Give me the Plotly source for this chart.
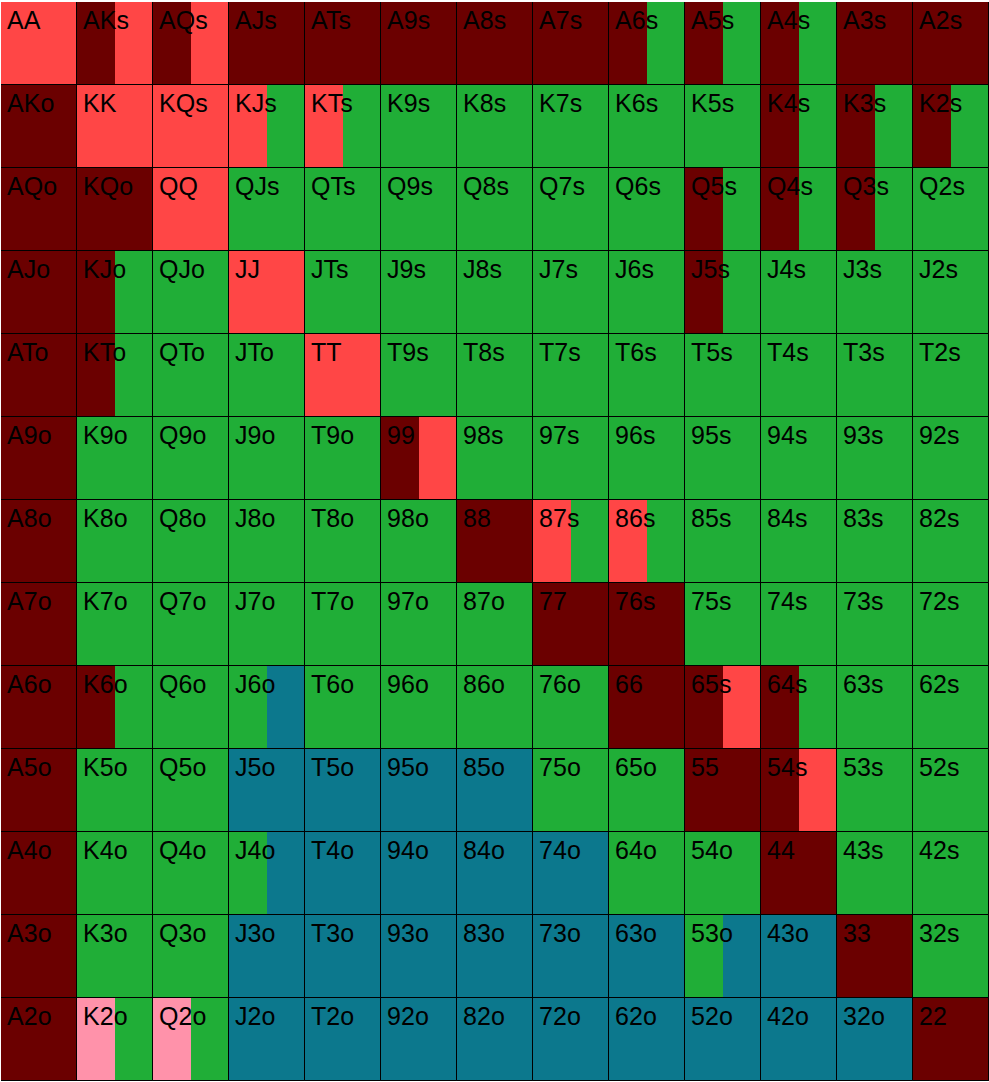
import plotly.graph_objects as go

RANKS = list("AKQJT98765432")

# Action frequencies (%) per cell, rows/cols ordered by RANKS
ALLIN = [
    [0, 50, 50, 100, 100, 100, 100, 100, 50, 50, 50, 100, 100],
    [100, 0, 0, 0, 0, 0, 0, 0, 0, 0, 50, 50, 50],
    [100, 100, 0, 0, 0, 0, 0, 0, 0, 50, 50, 50, 0],
    [100, 50, 0, 0, 0, 0, 0, 0, 0, 50, 0, 0, 0],
    [100, 50, 0, 0, 0, 0, 0, 0, 0, 0, 0, 0, 0],
    [100, 0, 0, 0, 0, 50, 0, 0, 0, 0, 0, 0, 0],
    [100, 0, 0, 0, 0, 0, 100, 0, 0, 0, 0, 0, 0],
    [100, 0, 0, 0, 0, 0, 0, 100, 100, 0, 0, 0, 0],
    [100, 50, 0, 0, 0, 0, 0, 0, 100, 50, 50, 0, 0],
    [100, 0, 0, 0, 0, 0, 0, 0, 0, 100, 50, 0, 0],
    [100, 0, 0, 0, 0, 0, 0, 0, 0, 0, 100, 0, 0],
    [100, 0, 0, 0, 0, 0, 0, 0, 0, 0, 0, 100, 0],
    [100, 0, 0, 0, 0, 0, 0, 0, 0, 0, 0, 0, 100],
]
RAISE = [
    [100, 50, 50, 0, 0, 0, 0, 0, 0, 0, 0, 0, 0],
    [0, 100, 100, 50, 50, 0, 0, 0, 0, 0, 0, 0, 0],
    [0, 0, 100, 0, 0, 0, 0, 0, 0, 0, 0, 0, 0],
    [0, 0, 0, 100, 0, 0, 0, 0, 0, 0, 0, 0, 0],
    [0, 0, 0, 0, 100, 0, 0, 0, 0, 0, 0, 0, 0],
    [0, 0, 0, 0, 0, 50, 0, 0, 0, 0, 0, 0, 0],
    [0, 0, 0, 0, 0, 0, 0, 50, 50, 0, 0, 0, 0],
    [0, 0, 0, 0, 0, 0, 0, 0, 0, 0, 0, 0, 0],
    [0, 0, 0, 0, 0, 0, 0, 0, 0, 50, 0, 0, 0],
    [0, 0, 0, 0, 0, 0, 0, 0, 0, 0, 50, 0, 0],
    [0, 0, 0, 0, 0, 0, 0, 0, 0, 0, 0, 0, 0],
    [0, 0, 0, 0, 0, 0, 0, 0, 0, 0, 0, 0, 0],
    [0, 0, 0, 0, 0, 0, 0, 0, 0, 0, 0, 0, 0],
]
LIMP = [
    [0] * 13, [0] * 13, [0] * 13, [0] * 13, [0] * 13, [0] * 13, [0] * 13,
    [0] * 13, [0] * 13, [0] * 13, [0] * 13, [0] * 13,
    [0, 50, 50, 0, 0, 0, 0, 0, 0, 0, 0, 0, 0],
]
CALL = [
    [0, 0, 0, 0, 0, 0, 0, 0, 50, 50, 50, 0, 0],
    [0, 0, 0, 50, 50, 100, 100, 100, 100, 100, 50, 50, 50],
    [0, 0, 0, 100, 100, 100, 100, 100, 100, 50, 50, 50, 100],
    [0, 50, 100, 0, 100, 100, 100, 100, 100, 50, 100, 100, 100],
    [0, 50, 100, 100, 0, 100, 100, 100, 100, 100, 100, 100, 100],
    [0, 100, 100, 100, 100, 0, 100, 100, 100, 100, 100, 100, 100],
    [0, 100, 100, 100, 100, 100, 0, 50, 50, 100, 100, 100, 100],
    [0, 100, 100, 100, 100, 100, 100, 0, 0, 100, 100, 100, 100],
    [0, 50, 100, 50, 100, 100, 100, 100, 0, 0, 50, 100, 100],
    [0, 100, 100, 0, 0, 0, 0, 100, 100, 0, 0, 100, 100],
    [0, 100, 100, 50, 0, 0, 0, 0, 100, 100, 0, 100, 100],
    [0, 100, 100, 0, 0, 0, 0, 0, 0, 50, 0, 0, 100],
    [0, 50, 50, 0, 0, 0, 0, 0, 0, 0, 0, 0, 0],
]
FOLD = [
    [0] * 13, [0] * 13, [0] * 13, [0] * 13, [0] * 13, [0] * 13, [0] * 13,
    [0] * 13,
    [0, 0, 0, 50, 0, 0, 0, 0, 0, 0, 0, 0, 0],
    [0, 0, 0, 100, 100, 100, 100, 0, 0, 0, 0, 0, 0],
    [0, 0, 0, 50, 100, 100, 100, 100, 0, 0, 0, 0, 0],
    [0, 0, 0, 100, 100, 100, 100, 100, 100, 50, 100, 0, 0],
    [0, 0, 0, 100, 100, 100, 100, 100, 100, 100, 100, 100, 0],
]

ACTIONS = [
    ("All-in", ALLIN, "#6b0000"),
    ("Raise", RAISE, "#ff4646"),
    ("Limp", LIMP, "#ff92aa"),
    ("Call", CALL, "#20ae37"),
    ("Fold", FOLD, "#0c788d"),
]


def hand_label(i, j):
    if i == j:
        return RANKS[i] + RANKS[j]
    if i < j:
        return RANKS[i] + RANKS[j] + "s"
    return RANKS[j] + RANKS[i] + "o"


n = len(RANKS)
fig = go.Figure()
offset = [[0.0] * n for _ in range(n)]
for name, mat, color in ACTIONS:
    xs, bases, ys = [], [], []
    for i in range(n):
        for j in range(n):
            f = mat[i][j] / 100.0
            if f > 0:
                xs.append(f)
                bases.append(j + offset[i][j])
                ys.append(i + 0.5)
                offset[i][j] += f
    fig.add_trace(go.Bar(
        x=xs, base=bases, y=ys, orientation="h", width=1,
        marker=dict(color=color, line=dict(width=0)),
        name=name, hoverinfo="skip", showlegend=False,
    ))

# cell outlines
cx, cy, cb, labels, tx, ty = [], [], [], [], [], []
for i in range(n):
    for j in range(n):
        cx.append(1)
        cb.append(j)
        cy.append(i + 0.5)
        labels.append(hand_label(i, j))
        tx.append(j + 0.08)
        ty.append(i + 0.25)

fig.add_trace(go.Bar(
    x=cx, base=cb, y=cy, orientation="h", width=1,
    marker=dict(color="rgba(0,0,0,0)", line=dict(color="#000000", width=1)),
    hoverinfo="skip", showlegend=False,
))

fig.add_trace(go.Scatter(
    x=tx, y=ty, text=labels, mode="text", textposition="middle right",
    textfont=dict(family="Liberation Sans, Arial, sans-serif", size=25, color="#000000"),
    hoverinfo="skip", showlegend=False,
))

fig.update_layout(
    width=989, height=1082,
    margin=dict(l=1, r=0, t=2, b=1),
    paper_bgcolor="white", plot_bgcolor="white",
    barmode="overlay", bargap=0,
    xaxis=dict(range=[0, 13], visible=False, fixedrange=True),
    yaxis=dict(range=[13, 0], visible=False, fixedrange=True),
    showlegend=False,
)

fig.write_html("out.html", config={"displayModeBar": False})
